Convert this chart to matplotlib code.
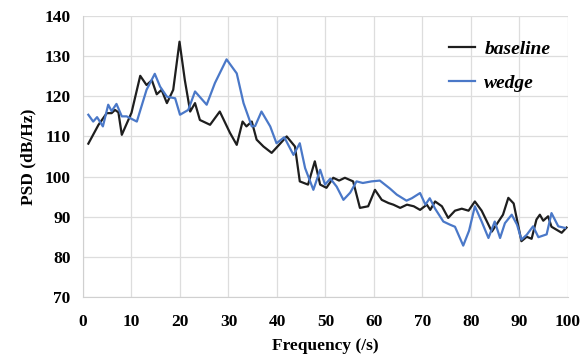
import matplotlib
matplotlib.use('Agg')
import matplotlib.pyplot as plt

# values
baseline_x = [1.1, 3.2, 4.9, 5.9, 6.6, 7.3, 8.0, 10.0, 11.8, 13.1, 14.2, 15.2, 16.2, 17.3,
              18.6, 19.9, 21.0, 22.1, 23.1, 24.1, 26.2, 28.2, 30.3, 31.7, 32.9, 33.7, 34.8,
              35.8, 37.2, 38.9, 40.5, 42.0, 43.7, 44.7, 46.4, 47.8, 48.9, 50.2, 51.6, 52.8,
              54.0, 55.7, 57.1, 58.8, 60.2, 61.6, 63.0, 64.0, 65.4, 66.8, 68.2, 69.5, 70.9,
              71.6, 72.6, 74.0, 75.3, 76.7, 78.1, 79.5, 80.8, 82.2, 84.3, 86.6, 87.7, 88.8,
              90.4, 91.5, 92.5, 93.5, 94.2, 94.9, 95.9, 96.6, 98.7, 99.7]
baseline_y = [108.2, 112.9, 115.8, 115.8, 116.6, 116.0, 110.4, 115.9, 125.1, 122.8, 124.0,
              120.5, 121.6, 118.3, 121.6, 133.6, 124.0, 116.2, 118.3, 114.1, 112.9, 116.2,
              110.9, 107.9, 113.7, 112.5, 113.7, 109.2, 107.5, 105.9, 108.0, 110.0, 107.5,
              98.8, 98.0, 103.8, 98.0, 97.2, 99.7, 99.0, 99.7, 98.8, 92.2, 92.6, 96.7, 94.2,
              93.4, 93.0, 92.2, 93.0, 92.6, 91.7, 93.0, 91.7, 93.8, 92.6, 89.7, 91.5, 92.0,
              91.5, 93.8, 91.5, 86.3, 90.5, 94.7, 93.3, 83.9, 85.0, 84.5, 89.3, 90.5, 89.0,
              90.1, 87.5, 86.0, 87.3]

wedge_x = [1.1, 2.1, 2.9, 4.1, 5.2, 5.9, 6.9, 8.0, 9.0, 11.1, 13.1, 14.8, 15.9, 17.3, 19.0,
           20.0, 21.7, 23.1, 25.5, 27.2, 29.6, 31.7, 33.1, 34.8, 35.5, 36.8, 38.6, 39.9,
           41.5, 43.4, 44.7, 45.8, 47.5, 48.9, 49.9, 51.0, 52.3, 53.7, 55.1, 56.4, 57.7,
           59.5, 61.2, 63.3, 64.7, 66.7, 67.8, 69.5, 70.6, 71.5, 72.6, 74.3, 75.7, 76.7,
           78.4, 79.6, 80.8, 82.2, 83.6, 84.9, 86.0, 87.0, 88.4, 89.5, 90.4, 91.5, 92.8,
           93.9, 95.6, 96.6, 98.0, 99.4]
wedge_y = [115.4, 113.7, 114.8, 112.5, 117.9, 116.3, 118.1, 115.0, 115.0, 113.7, 121.6,
           125.6, 122.4, 119.9, 119.5, 115.4, 116.6, 121.2, 117.9, 123.3, 129.2, 125.7,
           118.3, 112.5, 112.6, 116.2, 112.5, 108.3, 109.8, 105.4, 108.3, 102.1, 96.7,
           101.7, 98.0, 99.5, 97.5, 94.2, 96.0, 98.8, 98.4, 98.8, 99.0, 97.0, 95.5, 94.0,
           94.6, 95.9, 93.0, 94.6, 92.0, 88.8, 88.0, 87.5, 82.8, 86.5, 92.6, 88.8, 84.7,
           88.8, 84.7, 88.4, 90.5, 88.0, 84.3, 85.5, 87.6, 84.9, 85.6, 90.9, 87.6, 87.2]

x_ticks = [0, 10, 20, 30, 40, 50, 60, 70, 80, 90, 100]
y_ticks = [70, 80, 90, 100, 110, 120, 130, 140]

plt.rcParams['font.family'] = ['Liberation Serif', 'DejaVu Serif']

fig = plt.figure(figsize=(5.87, 3.58), dpi=100)
ax = fig.add_axes([0.1414, 0.1704, 0.8262, 0.7849])

ax.plot(baseline_x, baseline_y, color='#1e1e1e', lw=1.6, label='baseline',
        solid_joinstyle='round')
ax.plot(wedge_x, wedge_y, color='#4a78c8', lw=1.6, label='wedge',
        solid_joinstyle='round')

ax.set_xlim(0, 100)
ax.set_ylim(70, 140)
ax.set_xticks(x_ticks)
ax.set_yticks(y_ticks)
ax.grid(True, color='#dddddd', lw=0.9)
ax.set_axisbelow(True)
for side in ['top', 'right']:
    ax.spines[side].set_visible(False)
for side in ['left', 'bottom']:
    ax.spines[side].set_color('#d0d0d0')
ax.tick_params(axis='y', length=0, pad=9, labelsize=12.5)
ax.tick_params(axis='x', length=0, pad=12, labelsize=12.5)
for lbl in ax.get_xticklabels() + ax.get_yticklabels():
    lbl.set_fontweight('bold')

ax.set_xlabel('Frequency (/s)', fontsize=12.5, fontweight='bold', labelpad=6)
ax.set_ylabel('PSD (dB/Hz)', fontsize=12.5, fontweight='bold', labelpad=6)

leg = ax.legend(loc='upper right', bbox_to_anchor=(1.0, 0.975), frameon=False,
                prop={'weight': 'bold', 'style': 'italic', 'size': 14},
                handlelength=1.3, handletextpad=0.5, labelspacing=0.85)

fig.savefig('out.png', dpi=100)
